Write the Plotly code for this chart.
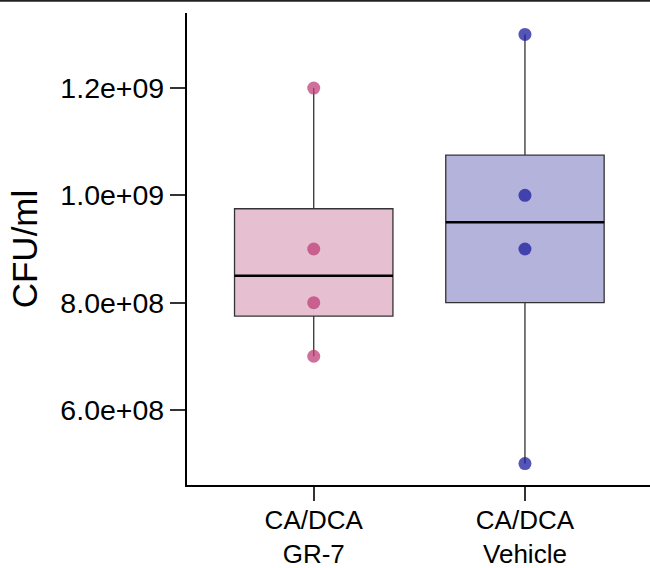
import numpy as np
import plotly.graph_objects as go

categories = ["CA/DCA<br>GR-7", "CA/DCA<br>Vehicle"]
gr7_values = [1.2e9, 9.0e8, 8.0e8, 7.0e8]
vehicle_values = [1.3e9, 1.0e9, 9.0e8, 5.0e8]
series = [gr7_values, vehicle_values]
fill_colors = ["#E6C0D0", "#B3B3DB"]
point_colors = ["rgba(191,63,120,0.75)", "rgba(28,28,160,0.75)"]
y_ticks = [6.0e8, 8.0e8, 1.0e9, 1.2e9]
y_ticktext = ["6.0e+08", "8.0e+08", "1.0e+09", "1.2e+09"]

W, H = 650, 568
ml, mr, mt, mb = 187, 0, 13, 83
box_w = 0.75

fig = go.Figure()
for i, vals in enumerate(series):
    v = np.array(vals, dtype=float)
    q1, med, q3 = np.percentile(v, [25, 50, 75])
    fig.add_trace(go.Box(
        x=[i], q1=[q1], median=[med], q3=[q3],
        lowerfence=[v.min()], upperfence=[v.max()],
        width=box_w, whiskerwidth=0,
        fillcolor=fill_colors[i],
        line=dict(color="#333333", width=1.3),
        boxpoints=False, showlegend=False, hoverinfo="skip",
    ))
    fig.add_trace(go.Scatter(
        x=[i - box_w / 2, i + box_w / 2], y=[med, med], mode="lines",
        line=dict(color="#000000", width=2.6), showlegend=False, hoverinfo="skip",
    ))
    fig.add_trace(go.Scatter(
        x=[i] * len(v), y=v, mode="markers",
        marker=dict(color=point_colors[i], size=13, line=dict(width=0)),
        showlegend=False,
    ))

plot_h = H - mt - mb
fig.add_shape(type="line", xref="paper", yref="paper",
              x0=-1, x1=2, y0=1 + (mt - 0.8) / plot_h, y1=1 + (mt - 0.8) / plot_h,
              line=dict(color="#222222", width=2))

fig.update_layout(
    width=W, height=H,
    margin=dict(l=ml, r=mr, t=mt, b=mb, pad=0, autoexpand=False),
    paper_bgcolor="white", plot_bgcolor="white",
    font=dict(family="Liberation Sans, Arial, sans-serif", color="#000000"),
    xaxis=dict(
        range=[-0.6, 1.592], tickmode="array", tickvals=[0, 1], ticktext=categories,
        showgrid=False, zeroline=False, showline=True, linecolor="#000000", linewidth=2.2,
        ticks="outside", ticklen=14, tickwidth=2, tickcolor="#333333",
        tickfont=dict(size=26, color="#000000"), automargin=False,
        ticklabelstandoff=-3,
    ),
    yaxis=dict(
        range=[4.6e8, 1.34e9], tickmode="array", tickvals=y_ticks, ticktext=y_ticktext,
        showgrid=False, zeroline=False, showline=True, linecolor="#000000", linewidth=2.2,
        ticks="outside", ticklen=15, tickwidth=2, tickcolor="#333333",
        tickfont=dict(size=28.5, color="#000000"), automargin=False,
        title=dict(text="CFU/ml", font=dict(size=35, color="#000000"), standoff=12),
    ),
)

fig.write_html("out.html")
